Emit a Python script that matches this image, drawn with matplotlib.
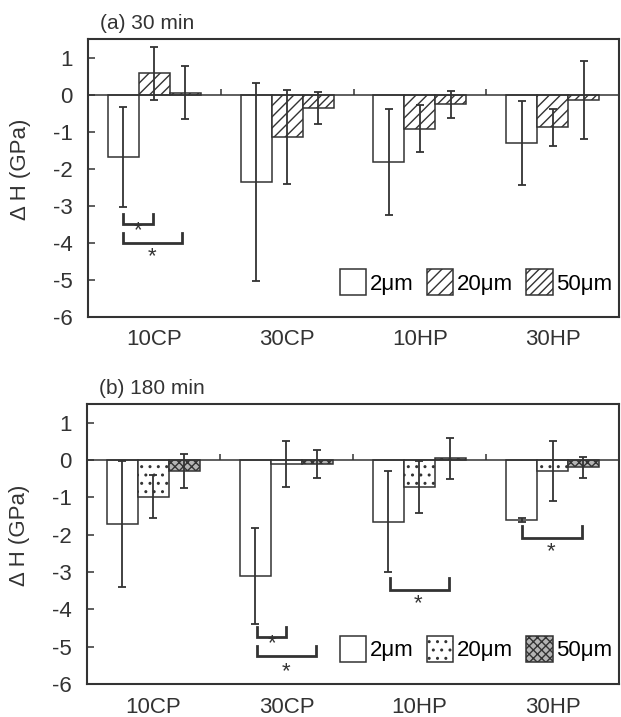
import numpy as np
import matplotlib
matplotlib.use("Agg")
import matplotlib.pyplot as plt

plt.rcParams['font.family'] = ['Liberation Sans', 'DejaVu Sans']
plt.rcParams['axes.unicode_minus'] = False

groups = ["10CP", "30CP", "10HP", "30HP"]
sizes = ["2μm", "20μm", "50μm"]

# (a) 30 min : mean and error per size, one value per group
mean_30 = {
    "2μm": [-1.68, -2.36, -1.83, -1.30],
    "20μm": [0.57, -1.14, -0.92, -0.88],
    "50μm": [0.05, -0.36, -0.26, -0.14],
}
err_30 = {
    "2μm": [1.34, 2.68, 1.43, 1.14],
    "20μm": [0.72, 1.27, 0.63, 0.50],
    "50μm": [0.71, 0.42, 0.36, 1.05],
}

# (b) 180 min
mean_180 = {
    "2μm": [-1.72, -3.10, -1.65, -1.60],
    "20μm": [-0.98, -0.10, -0.72, -0.30],
    "50μm": [-0.30, -0.10, 0.05, -0.20],
}
err_180 = {
    "2μm": [1.69, 1.29, 1.35, 0.05],
    "20μm": [0.58, 0.62, 0.70, 0.80],
    "50μm": [0.46, 0.37, 0.55, 0.27],
}

# significance brackets: (x start, x end, leg top, bar level, star x, star y)
brackets_30 = [
    (-0.233, -0.01, -3.21, -3.48, -0.12, -3.66),
    (-0.233, 0.21, -3.73, -4.00, -0.02, -4.36),
]
brackets_180 = [
    (0.78, 1.00, -4.47, -4.74, 0.89, -4.92),
    (0.78, 1.22, -4.99, -5.26, 1.00, -5.66),
    (1.78, 2.22, -3.17, -3.48, 1.99, -3.84),
    (2.77, 3.22, -1.77, -2.09, 2.99, -2.45),
]

DARK = "#333333"
FS = 16


def draw_panel(ax, means, errs, styles, brackets, title):
    x = np.arange(len(groups))
    w = 0.233
    for i, s in enumerate(sizes):
        fc, hatch = styles[s]
        ax.bar(x + (i - 1) * w, means[s], w, yerr=errs[s], color=fc,
               edgecolor=DARK, linewidth=1.1, hatch=hatch, label=s,
               error_kw=dict(ecolor=DARK, elinewidth=1.3, capsize=3,
                             capthick=1.3), zorder=2)

    ax.axhline(0, color=DARK, linewidth=1.1, zorder=3)
    # small ticks on the zero line between groups
    ax.vlines(x[:-1] + 0.5, 0, 0.16, color=DARK, linewidth=1.1, zorder=3)

    for x1, x2, ytop, ybar, sx, sy in brackets:
        ax.plot([x1, x1, x2, x2], [ytop, ybar, ybar, ytop], color=DARK,
                linewidth=2.0, solid_joinstyle="miter", zorder=3)
        ax.text(sx, sy, "*", ha="center", va="center", fontsize=16,
                color=DARK)

    ax.set_xlim(-0.5, 3.5)
    ax.set_ylim(-6, 1.5)
    ax.set_yticks(range(-6, 2))
    ax.set_xticks(x)
    ax.set_xticklabels(groups)
    ax.tick_params(axis="y", direction="in", length=5, width=1.1,
                   pad=11, labelsize=FS, colors=DARK)
    ax.tick_params(axis="x", length=0, pad=9, labelsize=FS, colors=DARK)
    for sp in ax.spines.values():
        sp.set_color(DARK)
        sp.set_linewidth(1.5)
    ax.set_ylabel("Δ H (GPa)", fontsize=FS, color=DARK)
    ax.yaxis.set_label_coords(-0.107, 0.53)
    ax.text(0.023, 1.02, title, transform=ax.transAxes, fontsize=15,
            color=DARK, ha="left", va="bottom")

    ax.legend(loc="center right", bbox_to_anchor=(1.0, 0.125), ncol=3,
              frameon=False, fontsize=FS, handlelength=1.2,
              handleheight=1.45, handletextpad=0.15, columnspacing=0.6,
              borderaxespad=0.2, borderpad=0.1)


fig = plt.figure(figsize=(6.21, 7.17), dpi=100)
ax1 = fig.add_axes([0.1417, 0.5579, 0.8551, 0.3877])
ax2 = fig.add_axes([0.1400, 0.0460, 0.8568, 0.3905])

styles_30 = {"2μm": ("white", None), "20μm": ("white", "///"),
             "50μm": ("white", "////")}
styles_180 = {"2μm": ("white", None), "20μm": ("white", ".."),
              "50μm": ("#b4b4b4", "xxxx")}

draw_panel(ax1, mean_30, err_30, styles_30, brackets_30, "(a) 30 min")
draw_panel(ax2, mean_180, err_180, styles_180, brackets_180, "(b) 180 min")

fig.savefig("out.png", dpi=100)
